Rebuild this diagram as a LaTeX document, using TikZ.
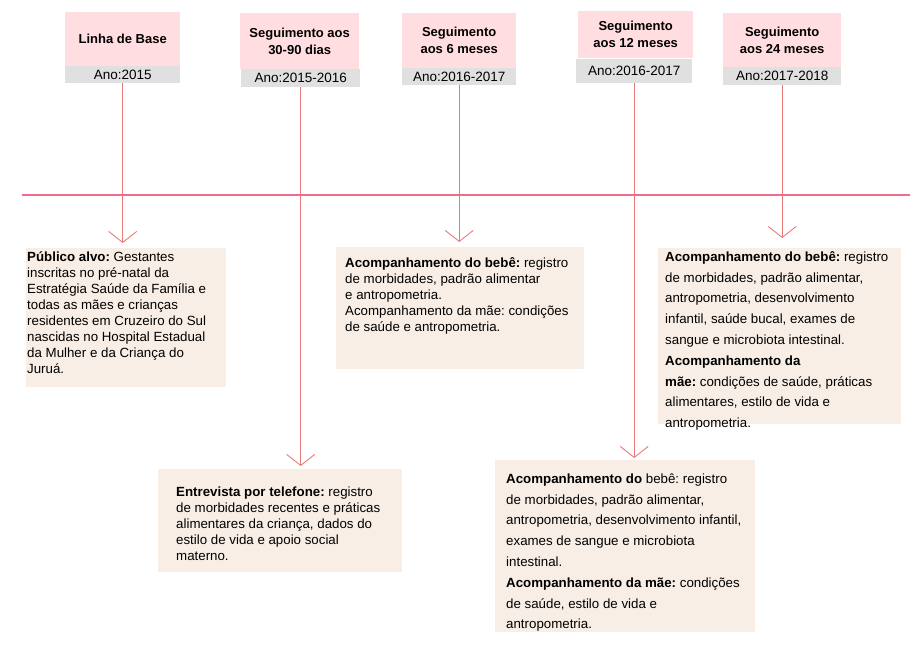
\documentclass[tikz,border=0pt]{standalone}
\usepackage{fontspec}
\setmainfont{Liberation Sans}
\usetikzlibrary{arrows.meta,calc}
\definecolor{hdrpink}{HTML}{FFDDE0}
\definecolor{anogrey}{HTML}{E0E0E0}
\definecolor{boxbeige}{HTML}{F8EEE6}
\definecolor{tlpink}{HTML}{F06C8E}
\definecolor{vred}{HTML}{E87A7A}
\newcommand{\firstln}{\rule{0pt}{13pt}}
\frenchspacing
\begin{document}
\begin{tikzpicture}[x=1pt,y=-1pt,
  hdr/.style={fill=hdrpink, anchor=north west, inner sep=0pt, align=center, font=\fontsize{13}{17}\selectfont\bfseries},
  ano/.style={fill=anogrey, anchor=north west, inner sep=0pt, font=\fontsize{13.5}{16}\selectfont},
  cbox/.style={fill=boxbeige, anchor=north west, inner sep=0pt},
  ctext/.style={anchor=north west, inner sep=0pt, align=left},
  sixteen/.style={font=\fontsize{13.3}{16}\selectfont\frenchspacing},
  twentyone/.style={font=\fontsize{13.3}{20.8}\selectfont\frenchspacing},
  vline/.style={draw=vred, line width=0.9pt, -{Straight Barb[length=11pt,width=28pt]}},
  tline/.style={draw=tlpink, line width=2pt}]
\useasboundingbox (0,0) rectangle (910,651);

% headers
\node[hdr, minimum width=115pt, minimum height=54pt] (h1) at (65,12) {Linha de Base};
\node[ano, minimum width=115pt, minimum height=17pt] (a1) at (65,66) {Ano:2015};
\node[hdr, minimum width=119pt, minimum height=56pt] (h2) at (240,13) {Seguimento aos\\30-90 dias};
\node[ano, minimum width=119pt, minimum height=18pt] (a2) at (241,69) {Ano:2015-2016};
\node[hdr, minimum width=114pt, minimum height=55pt] (h3) at (402,13) {Seguimento\\aos 6 meses};
\node[ano, minimum width=114pt, minimum height=17pt] (a3) at (402,68) {Ano:2016-2017};
\node[hdr, minimum width=115pt, minimum height=47pt] (h4) at (578,11) {Seguimento\\aos 12 meses};
\node[ano, minimum width=116pt, minimum height=24pt] (a4) at (576,59) {Ano:2016-2017};
\node[hdr, minimum width=118pt, minimum height=54pt] (h5) at (723,13) {Seguimento\\aos 24 meses};
\node[ano, minimum width=118pt, minimum height=18pt] (a5) at (723,67) {Ano:2017-2018};

% content boxes
\node[cbox, minimum width=200pt, minimum height=139pt] (cA) at (26,248) {};
\node[cbox, minimum width=248pt, minimum height=122pt] (cB) at (336,247) {};
\node[cbox, minimum width=243pt, minimum height=176pt] (cC) at (658,248) {};
\node[cbox, minimum width=244pt, minimum height=103pt] (cD) at (158,469) {};
\node[cbox, minimum width=260pt, minimum height=172pt] (cE) at (495,460) {};

\node[ctext, sixteen] (tA) at (27,248) {\firstln\textbf{Público alvo:} Gestantes\\inscritas no pré-natal da\\Estratégia Saúde da Família e\\todas as mães e crianças\\residentes em Cruzeiro do Sul\\nascidas no Hospital Estadual\\da Mulher e da Criança do\\Juruá.};
\node[ctext, sixteen] (tB) at (345,254) {\firstln\textbf{Acompanhamento do bebê:} registro\\de morbidades, padrão alimentar\\e antropometria.\\Acompanhamento da mãe: condições\\de saúde e antropometria.};
\node[ctext, twentyone] (tC) at (665,248) {\firstln\textbf{Acompanhamento do bebê:} registro\\de morbidades, padrão alimentar,\\antropometria, desenvolvimento\\infantil, saúde bucal, exames de\\sangue e microbiota intestinal.\\\textbf{Acompanhamento da}\\\textbf{mãe:} condições de saúde, práticas\\alimentares, estilo de vida e\\antropometria.};
\node[ctext, sixteen] (tD) at (176,483) {\firstln\textbf{Entrevista por telefone:} registro\\de morbidades recentes e práticas\\alimentares da criança, dados do\\estilo de vida e apoio social\\materno.};
\node[ctext, twentyone] (tE) at (506,470) {\firstln\textbf{Acompanhamento do} bebê: registro\\de morbidades, padrão alimentar,\\antropometria, desenvolvimento infantil,\\exames de sangue e microbiota\\intestinal.\\\textbf{Acompanhamento da mãe:} condições\\de saúde, estilo de vida e\\antropometria.};

% connectors
\draw[vline, shorten >=5pt] (a1.south) -- (a1.south |- cA.north);
\draw[vline, shorten >=3pt] (a2.south) -- (a2.south |- cD.north);
\draw[vline, shorten >=5pt] (a3.south) -- (a3.south |- cB.north);
\draw[vline, shorten >=2pt] (a4.south) -- (a4.south |- cE.north);
\draw[vline, shorten >=10pt] (a5.south) -- (a5.south |- cC.north);

% timeline
\coordinate (tlL) at (22,195);
\coordinate (tlR) at (910,195);
\draw[tline] (tlL) -- (tlR);
\end{tikzpicture}
\end{document}
